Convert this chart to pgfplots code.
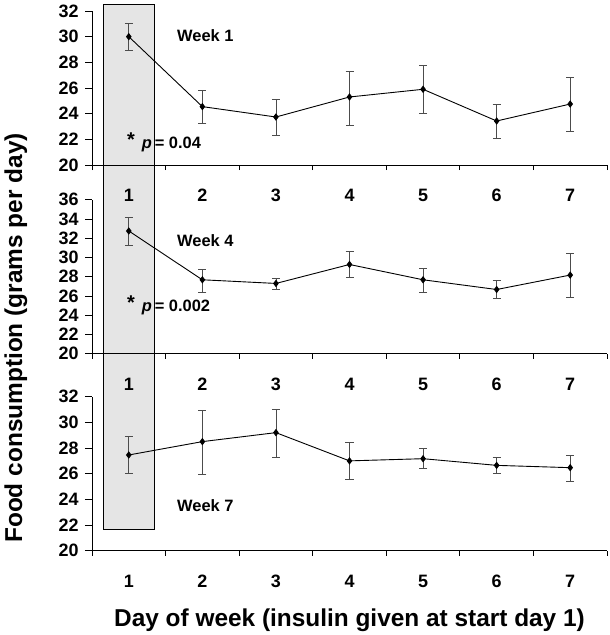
\documentclass[border=0pt]{standalone}
\usepackage{pgfplots}
\pgfplotsset{compat=1.18}
\usepackage{pgfplotstable}
\usepackage{fontspec}
\setmainfont{Liberation Sans}

\pgfplotstableread{
day y hi lo
1 30.00 31.00 28.90
2 24.55 25.85 23.27
3 23.74 25.10 22.34
4 25.30 27.30 23.10
5 25.90 27.80 24.05
6 23.43 24.75 22.10
7 24.75 26.86 22.65
}\weekone

\pgfplotstableread{
day y hi lo
1 32.75 34.17 31.30
2 27.68 28.80 26.40
3 27.30 27.80 26.67
4 29.27 30.60 27.90
5 27.68 28.90 26.35
6 26.67 27.60 25.73
7 28.17 30.45 25.87
}\weekfour

\pgfplotstableread{
day y hi lo
1 27.46 28.89 26.00
2 28.50 30.97 25.92
3 29.20 31.00 27.30
4 27.00 28.42 25.53
5 27.17 27.95 26.45
6 26.65 27.28 26.00
7 26.47 27.46 25.40
}\weekseven

\newcommand{\ticfont}{\fontsize{18}{21}\selectfont\bfseries}
\newcommand{\txtfont}{\fontsize{16.5}{19}\selectfont\bfseries}
\newcommand{\pfont}{\fontsize{16.5}{19}\selectfont\bfseries}
\newcommand{\labfont}{\fontsize{24.5}{28}\selectfont\bfseries}
\newcommand{\pstar}{{\fontsize{20}{20}\selectfont\raisebox{2bp}{*}}\hspace{7bp}}

\tikzset{ann/.style={anchor=base west, inner sep=0pt, font=\txtfont},
         pann/.style={anchor=base west, inner sep=0pt, font=\pfont}}

\pgfplotsset{
  panel/.style={
    scale only axis, width=515bp, height=154bp,
    xmin=0.5, xmax=7.5, ymin=20,
    axis x line=bottom, axis y line=left,
    axis line style={-, black, line width=0.8bp},
    tick align=outside, major tick length=7bp, minor tick length=5bp,
    xtick={1,...,7}, minor xtick={0.5,1.5,...,7.5},
    major x tick style={draw=none},
    tick style={black, line width=0.8bp},
    ticklabel style={font=\ticfont},
    /pgf/number format/assume math mode=true,
    xticklabel style={anchor=north, text height=13bp, text depth=0bp, yshift=-13bp},
    yticklabel style={xshift=-3bp},
    clip=false,
  },
  dataline/.style={
    black, line width=0.9bp, mark=diamond*, mark size=3bp, mark options={solid, fill=black},
    error bars/.cd, y dir=both, y explicit,
    error bar style={line width=0.8bp, black!70},
    error mark options={rotate=90, mark size=4bp, line width=0.8bp, black!70},
  },
}

\begin{document}
\begin{tikzpicture}
\path[use as bounding box] (0bp,0bp) rectangle (610bp,-635bp);

% bottom panel (week 7) with the shaded box spanning all panels
\begin{axis}[panel, at={(92bp,-550.7bp)}, anchor=south west,
  ymax=32, ytick={20,22,...,32},
  xlabel={Day of week (insulin given at start day 1)},
  xlabel style={at={(axis description cs:0.5,-0.489)}, anchor=base, font=\labfont},
  ylabel={Food consumption (grams per day)},
  ylabel style={at={(axis description cs:-0.1476,1.381)}, anchor=center, font=\labfont}]
\draw[fill=black!10, line width=0.8bp] (axis cs:0.65,21.67) rectangle (axis cs:1.35,62.6);
\addplot[dataline] table[x=day, y=y, y error plus expr=\thisrow{hi}-\thisrow{y}, y error minus expr=\thisrow{y}-\thisrow{lo}] {\weekseven};
\node[ann] at (axis cs:1.655,23.04) {Week 7};
\end{axis}

% middle panel (week 4)
\begin{axis}[panel, at={(92bp,-353.7bp)}, anchor=south west,
  ymax=36, ytick={20,22,...,36}]
\addplot[dataline] table[x=day, y=y, y error plus expr=\thisrow{hi}-\thisrow{y}, y error minus expr=\thisrow{y}-\thisrow{lo}] {\weekfour};
\node[ann] at (axis cs:1.655,31.15) {Week 4};
\node[pann] at (axis cs:0.976,24.375) {\pstar\textit{p}\,= 0.002};
\end{axis}

% top panel (week 1)
\begin{axis}[panel, at={(92bp,-165bp)}, anchor=south west,
  ymax=32, ytick={20,22,...,32}]
\addplot[dataline] table[x=day, y=y, y error plus expr=\thisrow{hi}-\thisrow{y}, y error minus expr=\thisrow{y}-\thisrow{lo}] {\weekone};
\node[ann] at (axis cs:1.655,29.6) {Week 1};
\node[pann] at (axis cs:0.976,21.3) {\pstar\textit{p}\,= 0.04};
\end{axis}
\end{tikzpicture}
\end{document}
